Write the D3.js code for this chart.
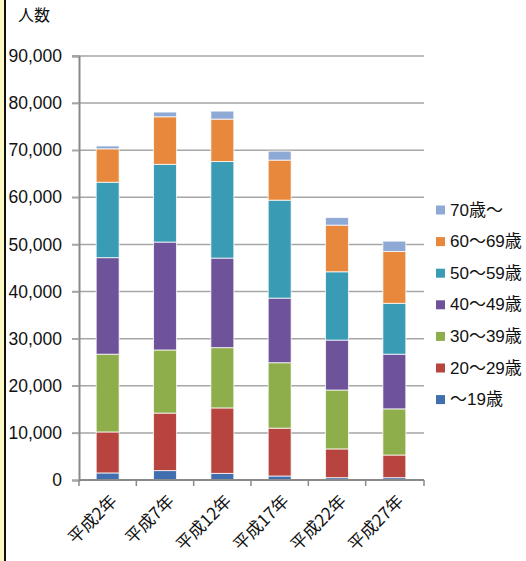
<!DOCTYPE html>
<html><head><meta charset="utf-8">
<script src="https://cdn.jsdelivr.net/npm/d3@7"></script>
<style>body{margin:0;background:#fff;}svg{display:block;}</style>
</head><body>
<svg id="c" width="526" height="561"></svg>
<script>
const categories = ["平成2年","平成7年","平成12年","平成17年","平成22年","平成27年"];
const seriesNames = ["～19歳","20～29歳","30～39歳","40～49歳","50～59歳","60～69歳","70歳～"];
const s19 = [1500, 2000, 1400, 850, 500, 500];
const s20 = [8700, 12200, 13900, 10150, 6100, 4800];
const s30 = [16500, 13400, 12800, 13900, 12500, 9800];
const s40 = [20500, 22900, 19000, 13700, 10600, 11600];
const s50 = [16000, 16500, 20500, 20800, 14500, 10800];
const s60 = [7100, 10100, 9000, 8500, 9900, 11000];
const s70 = [600, 1000, 1700, 1900, 1600, 2200];
const yTicks = [0,10000,20000,30000,40000,50000,60000,70000,80000,90000];
const colors = ["#3f6fae","#b8443f","#8dae4a","#6f539a","#3a9bb4","#e8883c","#8ea9d6"];
const seriesData = [s19,s20,s30,s40,s50,s60,s70];

const svg = d3.select("#c");
// left border decoration
svg.append("rect").attr("x",0).attr("y",0).attr("width",4).attr("height",561).attr("fill","#fbf8c4");
svg.append("rect").attr("x",4).attr("y",0).attr("width",2).attr("height",561).attr("fill","#111");

const x = d3.scaleBand().domain(categories).range([79,423]).paddingInner(0.6).paddingOuter(0.3);
const y = d3.scaleLinear().domain([0,90000]).range([480,56]);

// gridlines
svg.append("g").selectAll("line").data(yTicks.slice(1)).join("line")
  .attr("x1",72).attr("x2",424).attr("y1",d=>y(d)).attr("y2",d=>y(d))
  .attr("stroke","#a6a6a6").attr("stroke-width",1.5);

// y axis
const yAxis = d3.axisLeft(y).tickValues(yTicks).tickSize(7).tickPadding(10).tickFormat(d3.format(","));
const gy = svg.append("g").attr("transform","translate(79,0)").call(yAxis);
gy.select(".domain").attr("stroke","#8a8a8a").attr("stroke-width",2);
gy.selectAll(".tick line").attr("stroke","#a6a6a6").attr("stroke-width",1.5);
gy.selectAll("text").attr("font-family","'Liberation Sans', Arial, sans-serif").attr("font-size",17.5).attr("fill","#111");

// stacked bars
const rows = categories.map((c,i)=>{const r={cat:c}; seriesNames.forEach((n,j)=>r[n]=seriesData[j][i]); return r;});
const stack = d3.stack().keys(seriesNames)(rows);
svg.append("g").selectAll("g").data(stack).join("g").attr("fill",(d,i)=>colors[i])
  .selectAll("rect").data(d=>d).join("rect")
  .attr("x",d=>x(d.data.cat)).attr("width",x.bandwidth())
  .attr("y",d=>y(d[1])).attr("height",d=>y(d[0])-y(d[1]))
  .attr("stroke","#ffffff").attr("stroke-opacity",0.75).attr("stroke-width",1);

// bottom axis
svg.append("line").attr("x1",79).attr("x2",424).attr("y1",480).attr("y2",480).attr("stroke","#8a8a8a").attr("stroke-width",2);
const bounds = categories.map(c=>x(c)-x.step()*x.paddingInner()/2).concat([424]);
svg.append("g").selectAll("line").data(bounds).join("line")
  .attr("x1",d=>d).attr("x2",d=>d).attr("y1",480).attr("y2",486)
  .attr("stroke","#8a8a8a").attr("stroke-width",1.5);
svg.append("g").selectAll("text").data(categories).join("text")
  .attr("transform",d=>`translate(${x(d)+x.bandwidth()/2+7},${499}) rotate(-45)`)
  .attr("text-anchor","end").attr("dominant-baseline","middle")
  .attr("font-family","'Noto Sans CJK JP', sans-serif").attr("font-size",17).attr("fill","#111")
  .text(d=>d);

// y title
svg.append("text").attr("x",18).attr("y",21).attr("font-family","'Noto Sans CJK JP', sans-serif")
  .attr("font-size",16).attr("fill","#111").text("人数");

// legend
const leg = svg.append("g");
const legOrder = seriesNames.map((n,i)=>i).reverse();
legOrder.forEach((si,k)=>{
  const yy = 210 + k*31.6;
  leg.append("rect").attr("x",436).attr("y",yy-4.5).attr("width",9).attr("height",9).attr("fill",colors[si]);
  leg.append("text").attr("x",450).attr("y",yy).attr("dominant-baseline","central")
    .attr("font-family","'Liberation Sans', 'Noto Sans CJK JP', sans-serif").attr("font-size",17).attr("fill","#111")
    .text(seriesNames[si]);
});
</script>
</body></html>
